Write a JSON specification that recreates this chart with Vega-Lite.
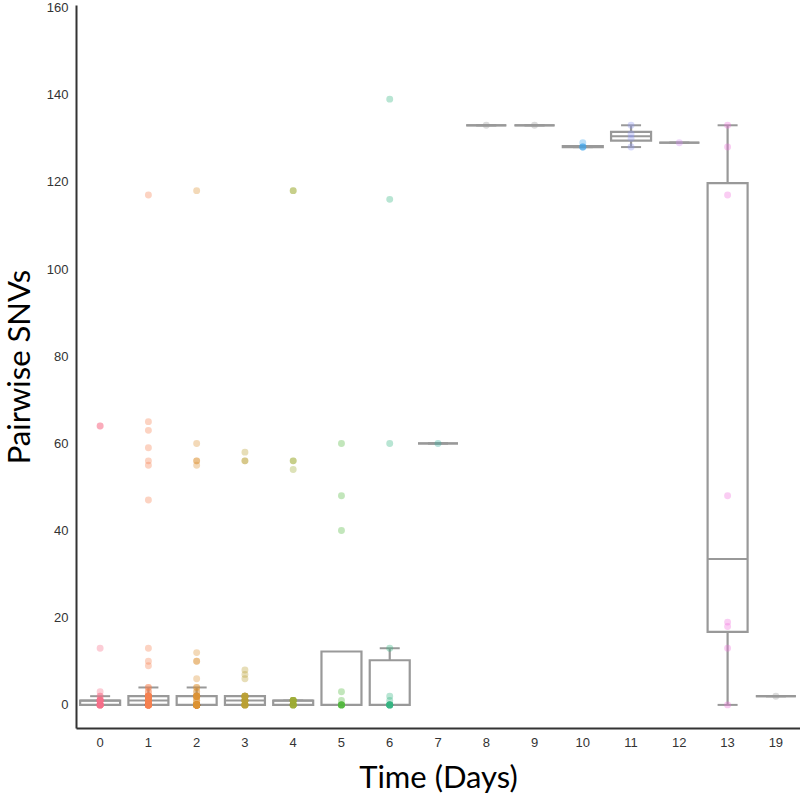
{
  "$schema": "https://vega.github.io/schema/vega-lite/v6.json",
  "width": 724,
  "height": 723,
  "autosize": {"type": "none"},
  "padding": {"left": 76, "top": 5, "right": 0, "bottom": 70},
  "background": "white",
  "config": {
    "view": {"stroke": null},
    "mark": {"color": "#999999"},
    "tick": {"color": "#999999"},
    "bar": {"color": "#999999"},
    "rule": {"color": "#999999"},
    "axis": {
      "grid": false,
      "ticks": false,
      "domainColor": "#333333",
      "domainWidth": 2,
      "labelFont": "Liberation Sans",
      "labelFontSize": 13,
      "labelColor": "#333333",
      "labelPadding": 8,
      "titleFont": "Lato",
      "titleFontWeight": "normal",
      "titleColor": "#000000",
      "titleFontSize": 31
    }
  },
  "data": {
    "values": [
      {"day":0,"snv":0},{"day":0,"snv":0},{"day":0,"snv":0},{"day":0,"snv":0},{"day":0,"snv":0},{"day":0,"snv":0},{"day":0,"snv":0},{"day":0,"snv":0},{"day":0,"snv":0},{"day":0,"snv":0},
      {"day":0,"snv":1},{"day":0,"snv":1},{"day":0,"snv":1},{"day":0,"snv":1},{"day":0,"snv":1},{"day":0,"snv":1},{"day":0,"snv":1},{"day":0,"snv":1},{"day":0,"snv":1},
      {"day":0,"snv":2},{"day":0,"snv":2},{"day":0,"snv":3},{"day":0,"snv":13},{"day":0,"snv":64},{"day":0,"snv":64},

      {"day":1,"snv":0},{"day":1,"snv":0},{"day":1,"snv":0},{"day":1,"snv":0},{"day":1,"snv":0},{"day":1,"snv":0},{"day":1,"snv":0},{"day":1,"snv":0},{"day":1,"snv":0},{"day":1,"snv":0},
      {"day":1,"snv":0},{"day":1,"snv":0},{"day":1,"snv":0},{"day":1,"snv":0},{"day":1,"snv":0},{"day":1,"snv":0},{"day":1,"snv":0},{"day":1,"snv":0},{"day":1,"snv":0},{"day":1,"snv":0},
      {"day":1,"snv":1},{"day":1,"snv":1},{"day":1,"snv":1},{"day":1,"snv":1},{"day":1,"snv":1},{"day":1,"snv":1},{"day":1,"snv":1},{"day":1,"snv":1},{"day":1,"snv":1},{"day":1,"snv":1},{"day":1,"snv":1},{"day":1,"snv":1},
      {"day":1,"snv":2},{"day":1,"snv":2},{"day":1,"snv":2},{"day":1,"snv":2},{"day":1,"snv":2},{"day":1,"snv":2},{"day":1,"snv":2},{"day":1,"snv":2},{"day":1,"snv":2},{"day":1,"snv":2},{"day":1,"snv":2},
      {"day":1,"snv":3},{"day":1,"snv":3},{"day":1,"snv":4},{"day":1,"snv":4},{"day":1,"snv":9},{"day":1,"snv":10},{"day":1,"snv":13},{"day":1,"snv":47},{"day":1,"snv":55},{"day":1,"snv":56},{"day":1,"snv":59},{"day":1,"snv":63},{"day":1,"snv":65},{"day":1,"snv":117},

      {"day":2,"snv":0},{"day":2,"snv":0},{"day":2,"snv":0},{"day":2,"snv":0},{"day":2,"snv":0},{"day":2,"snv":0},{"day":2,"snv":0},{"day":2,"snv":0},{"day":2,"snv":0},{"day":2,"snv":0},
      {"day":2,"snv":0},{"day":2,"snv":0},{"day":2,"snv":0},{"day":2,"snv":0},{"day":2,"snv":0},{"day":2,"snv":0},{"day":2,"snv":0},{"day":2,"snv":0},{"day":2,"snv":0},{"day":2,"snv":0},
      {"day":2,"snv":0},{"day":2,"snv":0},{"day":2,"snv":0},{"day":2,"snv":0},{"day":2,"snv":0},{"day":2,"snv":0},{"day":2,"snv":0},{"day":2,"snv":0},
      {"day":2,"snv":1},{"day":2,"snv":1},{"day":2,"snv":1},
      {"day":2,"snv":2},{"day":2,"snv":2},{"day":2,"snv":2},{"day":2,"snv":2},{"day":2,"snv":2},{"day":2,"snv":2},{"day":2,"snv":2},{"day":2,"snv":2},{"day":2,"snv":2},
      {"day":2,"snv":3},{"day":2,"snv":3},{"day":2,"snv":4},{"day":2,"snv":4},{"day":2,"snv":6},{"day":2,"snv":10},{"day":2,"snv":10},{"day":2,"snv":12},{"day":2,"snv":55},{"day":2,"snv":56},{"day":2,"snv":56},{"day":2,"snv":60},{"day":2,"snv":118},

      {"day":3,"snv":0},{"day":3,"snv":0},{"day":3,"snv":0},{"day":3,"snv":0},{"day":3,"snv":0},{"day":3,"snv":0},{"day":3,"snv":0},{"day":3,"snv":0},{"day":3,"snv":0},
      {"day":3,"snv":1},{"day":3,"snv":1},{"day":3,"snv":1},{"day":3,"snv":1},{"day":3,"snv":1},{"day":3,"snv":1},{"day":3,"snv":1},
      {"day":3,"snv":2},{"day":3,"snv":2},{"day":3,"snv":2},{"day":3,"snv":2},{"day":3,"snv":2},{"day":3,"snv":2},{"day":3,"snv":2},{"day":3,"snv":2},
      {"day":3,"snv":6},{"day":3,"snv":7},{"day":3,"snv":8},{"day":3,"snv":56},{"day":3,"snv":56},{"day":3,"snv":58},

      {"day":4,"snv":0},{"day":4,"snv":0},{"day":4,"snv":0},{"day":4,"snv":0},{"day":4,"snv":0},{"day":4,"snv":0},{"day":4,"snv":0},{"day":4,"snv":0},
      {"day":4,"snv":1},{"day":4,"snv":1},{"day":4,"snv":1},{"day":4,"snv":1},{"day":4,"snv":1},{"day":4,"snv":1},{"day":4,"snv":1},{"day":4,"snv":1},
      {"day":4,"snv":54},{"day":4,"snv":56},{"day":4,"snv":56},{"day":4,"snv":118},{"day":4,"snv":118},

      {"day":5,"snv":0},{"day":5,"snv":0},{"day":5,"snv":0},{"day":5,"snv":0},{"day":5,"snv":0},{"day":5,"snv":0},{"day":5,"snv":0},
      {"day":5,"snv":1},{"day":5,"snv":3},{"day":5,"snv":40},{"day":5,"snv":48},{"day":5,"snv":60},

      {"day":6,"snv":0},{"day":6,"snv":0},{"day":6,"snv":0},{"day":6,"snv":0},{"day":6,"snv":0},{"day":6,"snv":0},{"day":6,"snv":0},{"day":6,"snv":0},
      {"day":6,"snv":1},{"day":6,"snv":2},{"day":6,"snv":13},{"day":6,"snv":60},{"day":6,"snv":116},{"day":6,"snv":139},

      {"day":7,"snv":60},
      {"day":8,"snv":133},
      {"day":9,"snv":133},
      {"day":10,"snv":128},{"day":10,"snv":128},{"day":10,"snv":128},{"day":10,"snv":129},
      {"day":11,"snv":128},{"day":11,"snv":130},{"day":11,"snv":131},{"day":11,"snv":133},
      {"day":12,"snv":129},
      {"day":13,"snv":0},{"day":13,"snv":13},{"day":13,"snv":18},{"day":13,"snv":19},{"day":13,"snv":48},{"day":13,"snv":117},{"day":13,"snv":128},{"day":13,"snv":133},
      {"day":19,"snv":2}
    ]
  },
  "encoding": {
    "x": {
      "field": "day",
      "type": "ordinal",
      "scale": {"type": "band", "paddingInner": 0, "paddingOuter": 0},
      "axis": {"title": "Time (Days)", "labelAngle": 0, "titlePadding": 14}
    }
  },
  "layer": [
    {
      "mark": {
        "type": "boxplot",
        "extent": 1.5,
        "size": 40,
        "color": "#999999",
        "outliers": false,
        "box": {"fill": "white", "stroke": "#999999", "strokeWidth": 2.2, "opacity": 1},
        "median": {"color": "#999999", "fill": "#999999", "thickness": 2, "opacity": 1},
        "rule": {"color": "#999999", "stroke": "#999999", "strokeWidth": 2.2},
        "ticks": {"color": "#999999", "fill": "#999999", "size": 20, "thickness": 2, "opacity": 1}
      },
      "encoding": {
        "y": {
          "field": "snv",
          "type": "quantitative",
          "scale": {"domain": [-5.3, 160.6], "nice": false, "zero": false},
          "axis": {"title": "Pairwise SNVs", "values": [0, 20, 40, 60, 80, 100, 120, 140, 160], "titlePadding": 10}
        }
      }
    },
    {
      "mark": {"type": "circle", "size": 48, "opacity": 0.35, "strokeWidth": 0},
      "encoding": {
        "y": {"field": "snv", "type": "quantitative"},
        "color": {
          "field": "day",
          "type": "ordinal",
          "scale": {
            "domain": [0, 1, 2, 3, 4, 5, 6, 7, 8, 9, 10, 11, 12, 13, 19],
            "range": ["#f77189", "#f7814f", "#dc9233", "#bba135", "#9dab33", "#50b83c", "#33b481", "#36ae9f", "#9a9a9a", "#9a9a9a", "#3ba3ec", "#8e97f4", "#d38af3", "#f170dd", "#9a9a9a"]
          },
          "legend": null
        }
      }
    }
  ]
}
